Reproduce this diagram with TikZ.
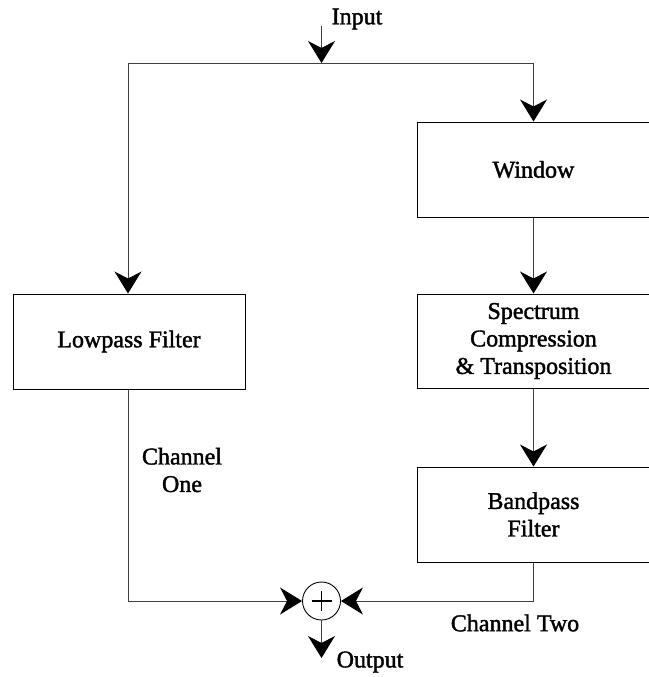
\documentclass[tikz,border=0pt]{standalone}
\usepackage{fontspec}
\setmainfont{Liberation Serif}[FakeBold=1.6]
\usetikzlibrary{arrows.meta}
\begin{document}
\begin{tikzpicture}[x=1pt,y=-1pt,
  font=\fontsize{24}{27.5}\selectfont,
  box/.style={draw=black,line width=1pt,rectangle,align=center,inner sep=0pt},
  lbl/.style={align=center,inner sep=0pt},
  conn/.style={draw=black!75,line width=0.9pt},
  arr/.style={conn,-{Stealth[length=22pt,width=27pt,inset=7pt,color=black]}}]
\useasboundingbox (0,0) rectangle (648,677);
% boxes
\node[box,minimum width=232pt,minimum height=95pt] (lp) at (129,341.5) {Lowpass Filter};
\node[box,minimum width=233pt,minimum height=95pt] (win) at (533.5,169.5) {Window};
\node[box,minimum width=233pt,minimum height=94pt] (sp) at (533.5,341) {Spectrum\\Compression\\\& Transposition};
\node[box,minimum width=233pt,minimum height=95pt] (bp) at (533.5,514.5) {Bandpass\\Filter};
\node[draw=black,line width=0.9pt,circle,minimum size=38pt,inner sep=0pt] (sum) at (321.5,601) {};
\draw[line width=1.8pt] ([xshift=-10pt]sum.center) -- ([xshift=10pt]sum.center)
  ([yshift=-10pt]sum.center) -- ([yshift=10pt]sum.center);
% coordinates
\coordinate (itop) at (321.5,26);
\coordinate (jn) at (321.5,63);
\coordinate (jl) at (128,63);
\coordinate (jr) at (533.5,63);
\coordinate (out) at (321.5,658);
% labels
\node[lbl] (inl) at (357,19) {Input};
\node[lbl] (outl) at (370,662) {Output};
\node[lbl] (c1) at (182,470) {Channel\\One};
\node[lbl] (c2) at (515,623) {Channel Two};
% connectors
\draw[arr] (itop) -- (jn);
\draw[conn] (jl) -- (jr);
\draw[arr] (jl) -- (jl |- lp.north);
\draw[arr] (jr) -- (win.north);
\draw[arr] (win.south) -- (sp.north);
\draw[arr] (sp.south) -- (bp.north);
\draw[arr] (lp.south -| jl) |- (sum.west);
\draw[arr] (bp.south) |- (sum.east);
\draw[arr] (sum.south) -- (out);
\end{tikzpicture}
\end{document}
